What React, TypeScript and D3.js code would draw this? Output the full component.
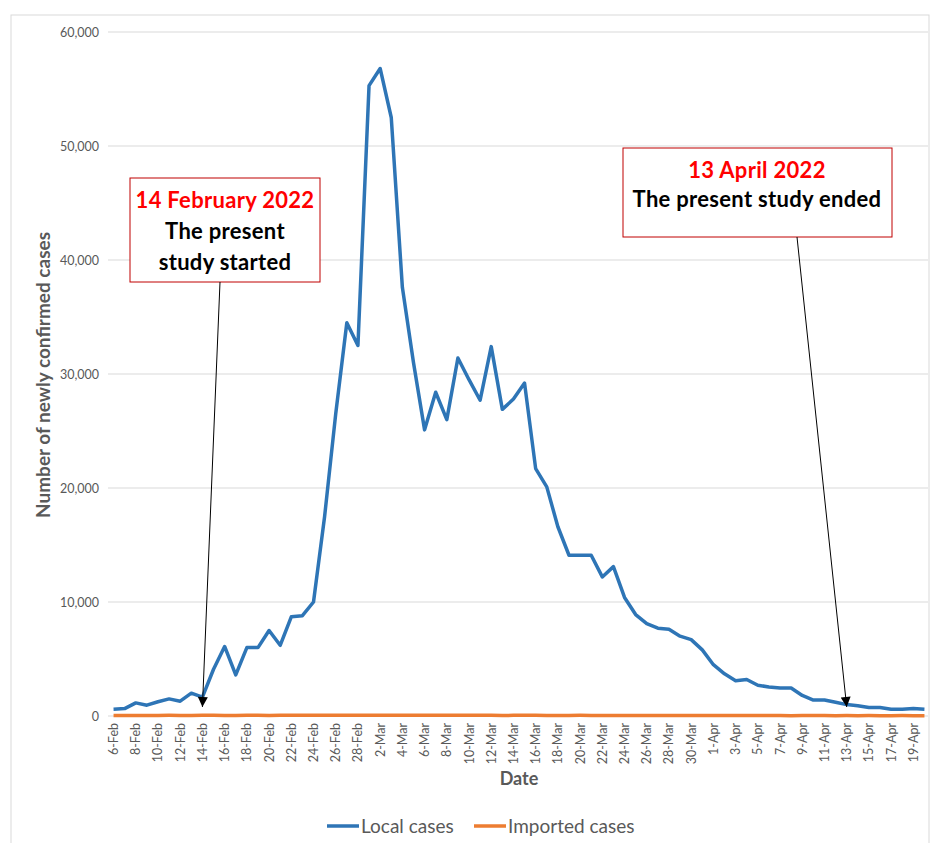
import React from "react";
import * as d3 from "d3";

const dates: string[] = [
  "6-Feb","7-Feb","8-Feb","9-Feb","10-Feb","11-Feb","12-Feb","13-Feb","14-Feb","15-Feb",
  "16-Feb","17-Feb","18-Feb","19-Feb","20-Feb","21-Feb","22-Feb","23-Feb","24-Feb","25-Feb",
  "26-Feb","27-Feb","28-Feb","1-Mar","2-Mar","3-Mar","4-Mar","5-Mar","6-Mar","7-Mar",
  "8-Mar","9-Mar","10-Mar","11-Mar","12-Mar","13-Mar","14-Mar","15-Mar","16-Mar","17-Mar",
  "18-Mar","19-Mar","20-Mar","21-Mar","22-Mar","23-Mar","24-Mar","25-Mar","26-Mar","27-Mar",
  "28-Mar","29-Mar","30-Mar","31-Mar","1-Apr","2-Apr","3-Apr","4-Apr","5-Apr","6-Apr",
  "7-Apr","8-Apr","9-Apr","10-Apr","11-Apr","12-Apr","13-Apr","14-Apr","15-Apr","16-Apr",
  "17-Apr","18-Apr","19-Apr","20-Apr",
];

const localCases: number[] = [
  600, 650, 1150, 950, 1250, 1500, 1300, 2000, 1650, 4100,
  6100, 3600, 6000, 6000, 7500, 6200, 8700, 8800, 10000, 17500,
  26500, 34500, 32500, 55300, 56800, 52500, 37600, 31000, 25100, 28400,
  26000, 31400, 29500, 27700, 32400, 26900, 27800, 29200, 21700, 20100,
  16600, 14100, 14100, 14100, 12200, 13100, 10400, 8900, 8100, 7700,
  7600, 7000, 6700, 5800, 4500, 3700, 3100, 3200, 2700, 2550,
  2450, 2450, 1800, 1400, 1400, 1200, 1000, 900, 750, 750,
  600, 600, 650, 600,
];

const importedCases: number[] = [
  40, 35, 50, 45, 40, 55, 50, 45, 60, 55,
  50, 45, 60, 55, 50, 60, 55, 65, 60, 55,
  60, 70, 65, 60, 70, 65, 60, 70, 65, 60,
  55, 60, 65, 55, 60, 50, 55, 60, 55, 50,
  45, 50, 55, 50, 45, 50, 45, 40, 45, 50,
  45, 40, 45, 40, 35, 40, 45, 40, 35, 40,
  35, 30, 35, 40, 35, 30, 35, 30, 35, 30,
  30, 35, 30, 30,
];

const yTicks: number[] = [0, 10000, 20000, 30000, 40000, 50000, 60000];

const seriesNames: string[] = ["Local cases", "Imported cases"];

const FONT = "Lato, 'Open Sans', sans-serif";
const GRAY = "#595959";
const BLUE = "#2e75b6";
const ORANGE = "#ed7d31";

export default function App() {
  const W = 932;
  const H = 843;
  const left = 108;
  const right = 930;
  const top = 32;
  const bottom = 716;

  const x = d3.scaleBand<string>().domain(dates).range([left, right]);
  const cx = (d: string) => (x(d) as number) + x.bandwidth() / 2;
  const y = d3.scaleLinear().domain([0, 60000]).range([bottom, top]);

  const line = d3
    .line<number>()
    .x((_, i) => cx(dates[i]))
    .y((v) => y(v));

  const fmt = d3.format(",");

  const startIdx = dates.indexOf("14-Feb");
  const endIdx = dates.indexOf("13-Apr");

  const arrow1 = { x1: 220, y1: 282, x2: cx(dates[startIdx]), y2: y(0) - 9 };
  const arrow2 = { x1: 797, y1: 237, x2: cx(dates[endIdx]), y2: y(0) - 9 };

  return (
    <svg
      width={W}
      height={H}
      style={{ position: "absolute", left: 0, top: 0, background: "#fff" }}
      fontFamily={FONT}
    >
      <defs>
        <marker
          id="arr"
          viewBox="0 0 10 10"
          refX="10"
          refY="5"
          markerWidth="11"
          markerHeight="10"
          orient="auto"
          markerUnits="userSpaceOnUse"
        >
          <path d="M0,0 L10,5 L0,10 z" fill="#000" />
        </marker>
      </defs>
      <rect x={11} y={15} width={918} height={840} fill="#fff" stroke="#d9d9d9" strokeWidth={1} />

      {yTicks.map((t) => (
        <g key={t}>
          <line x1={left} x2={right - 2} y1={y(t)} y2={y(t)} stroke="#d9d9d9" strokeWidth={1} />
          <text x={99} y={y(t) + 4.5} textAnchor="end" fontSize={12.5} fill={GRAY}>
            {fmt(t)}
          </text>
        </g>
      ))}

      {dates.map((d, i) =>
        i % 2 === 0 ? (
          <text
            key={d}
            transform={`translate(${cx(d) + 4.5},${y(0) + 7}) rotate(-90)`}
            textAnchor="end"
            fontSize={12.5}
            fill={GRAY}
          >
            {d}
          </text>
        ) : null
      )}

      <path d={line(importedCases) || ""} fill="none" stroke={ORANGE} strokeWidth={3.5} strokeLinejoin="round" />
      <path d={line(localCases) || ""} fill="none" stroke={BLUE} strokeWidth={3.5} strokeLinejoin="round" />

      <text
        transform={`translate(50,375) rotate(-90)`}
        textAnchor="middle"
        fontSize={19}
        fontWeight="bold"
        fill={GRAY}
      >
        Number of newly confirmed cases
      </text>
      <text x={519} y={785} textAnchor="middle" fontSize={18} fontWeight="bold" fill={GRAY}>
        Date
      </text>

      {/* Annotation 1 */}
      <rect x={130} y={178} width={190} height={104} fill="#fff" stroke="#c00000" strokeWidth={1} />
      <text x={225} y={208} textAnchor="middle" fontSize={22} fontWeight="bold" fill="#ff0000" letterSpacing={0.3}>
        14 February 2022
      </text>
      <text x={225} y={239} textAnchor="middle" fontSize={22} fontWeight="bold" fill="#000" letterSpacing={0.3}>
        The present
      </text>
      <text x={225} y={270} textAnchor="middle" fontSize={22} fontWeight="bold" fill="#000" letterSpacing={0.3}>
        study started
      </text>
      <line {...arrow1} stroke="#000" strokeWidth={1} markerEnd="url(#arr)" />

      {/* Annotation 2 */}
      <rect x={623} y={148} width={269} height={89} fill="#fff" stroke="#c00000" strokeWidth={1} />
      <text x={757} y={178} textAnchor="middle" fontSize={22} fontWeight="bold" fill="#ff0000" letterSpacing={0.3}>
        13 April 2022
      </text>
      <text x={757} y={207} textAnchor="middle" fontSize={22} fontWeight="bold" fill="#000" letterSpacing={0.3}>
        The present study ended
      </text>
      <line {...arrow2} stroke="#000" strokeWidth={1} markerEnd="url(#arr)" />

      {/* Legend */}
      {seriesNames.map((name, i) => {
        const lx = i === 0 ? 327 : 474;
        return (
          <g key={name}>
            <line x1={lx} x2={lx + 32} y1={826} y2={826} stroke={i === 0 ? BLUE : ORANGE} strokeWidth={3.5} />
            <text x={lx + 34} y={833} fontSize={19} fill={GRAY}>
              {name}
            </text>
          </g>
        );
      })}
    </svg>
  );
}
